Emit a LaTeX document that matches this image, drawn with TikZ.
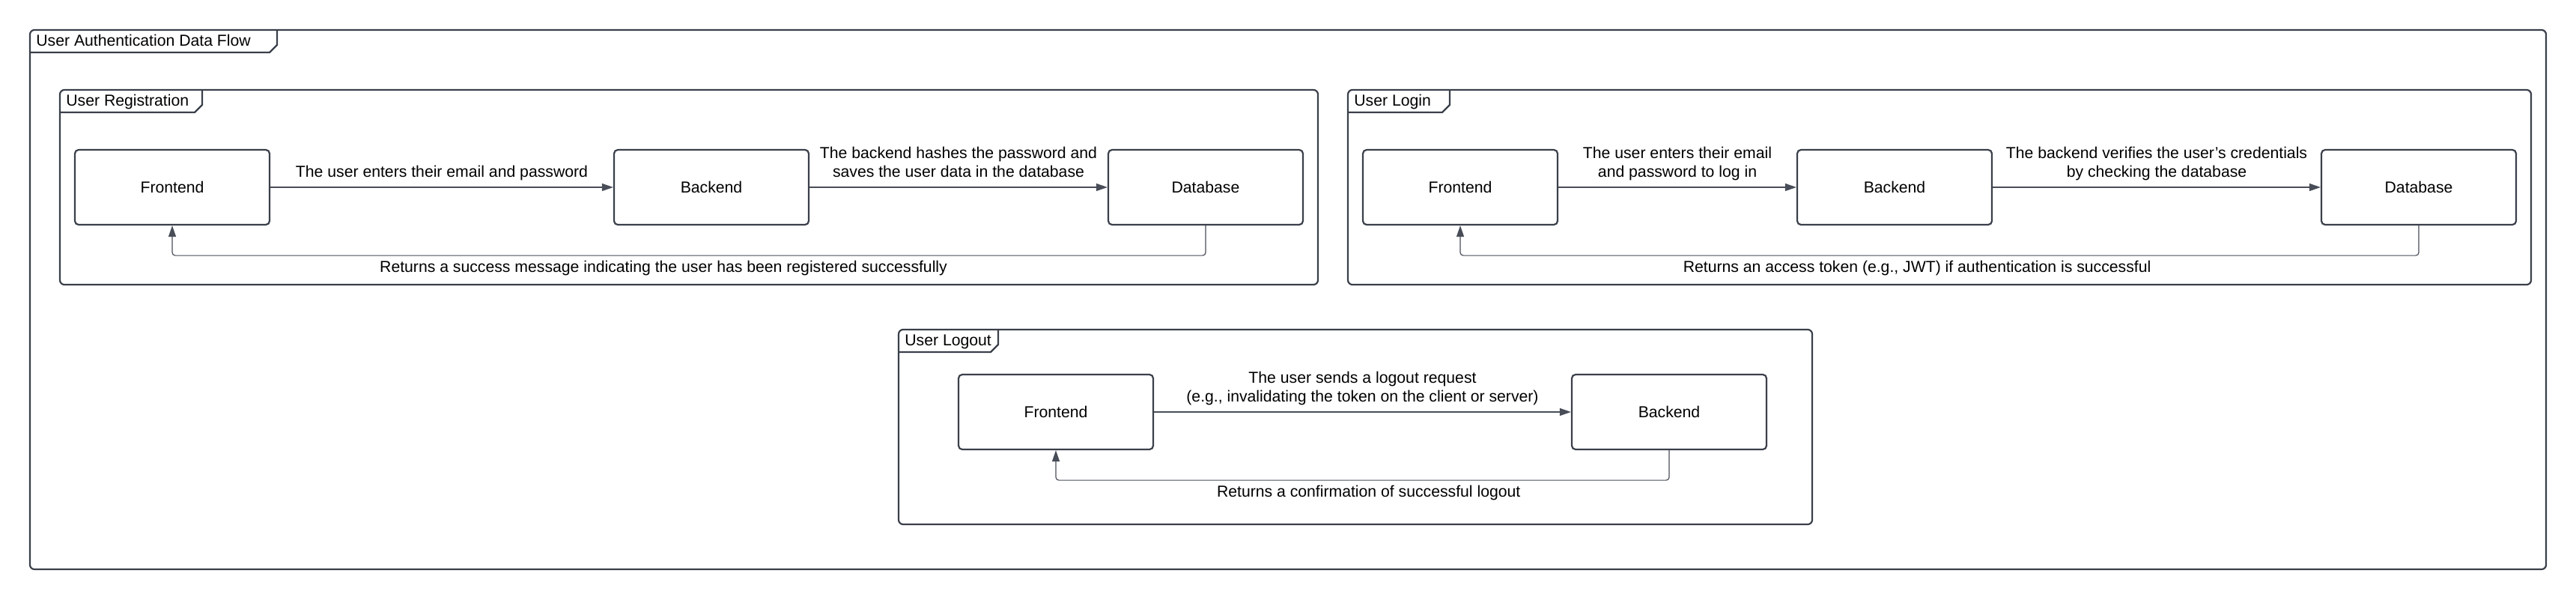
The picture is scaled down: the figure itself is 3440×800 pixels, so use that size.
\documentclass[tikz,border=0pt]{standalone}
\usepackage{fontspec}
\setmainfont{Liberation Sans}
\usetikzlibrary{arrows.meta}
\definecolor{edgec}{RGB}{58,63,74}
\definecolor{linkc}{RGB}{72,77,88}
\begin{document}
\begin{tikzpicture}[x=0.5pt,y=-0.5pt,
  font=\fontsize{10.6}{12.5}\selectfont,
  frame/.style={draw=edgec,line width=1.1pt,rounded corners=3pt},
  tabline/.style={draw=edgec,line width=1.1pt},
  tabtext/.style={anchor=base west,inner sep=0pt},
  box/.style={draw=edgec,line width=1.1pt,rounded corners=2.5pt,minimum width=130pt,minimum height=50pt,inner sep=0pt,fill=white},
  flow/.style={draw=linkc,line width=0.6pt,-{Triangle[length=7.5pt,width=5pt]}},
  ret/.style={flow,rounded corners=2pt},
  lblup/.style={anchor=south,inner sep=0pt,yshift=2.75pt,align=center},
  lbldown/.style={anchor=base,inner sep=0pt,yshift=-11pt}
]
\useasboundingbox (0,0) rectangle (3440,800);
% outer frame
\draw[frame] (40,40) rectangle (3400,760);
\draw[tabline] (40,70) -- (360,70) -- (370,60) -- (370,40);
\node[tabtext] (tout) at (48,61) {User Authentication Data Flow};
% registration frame
\draw[frame] (80,120) rectangle (1760,380);
\draw[tabline] (80,150) -- (260,150) -- (270,140) -- (270,120);
\node[tabtext] (treg) at (88,141) {User Registration};
% login frame
\draw[frame] (1800,120) rectangle (3380,380);
\draw[tabline] (1800,150) -- (1926,150) -- (1936,140) -- (1936,120);
\node[tabtext] (tlog) at (1808,141) {User Login};
% logout frame
\draw[frame] (1200,440) rectangle (2420,700);
\draw[tabline] (1200,470) -- (1323,470) -- (1333,460) -- (1333,440);
\node[tabtext] (tout2) at (1208,461) {User Logout};
% registration boxes
\node[box] (rfe) at (230,250) {Frontend};
\node[box] (rbe) at (950,250) {Backend};
\node[box] (rdb) at (1610,250) {Database};
% login boxes
\node[box] (lfe) at (1950,250) {Frontend};
\node[box] (lbe) at (2530,250) {Backend};
\node[box] (ldb) at (3230,250) {Database};
% logout boxes
\node[box] (ofe) at (1410,550) {Frontend};
\node[box] (obe) at (2229,550) {Backend};
% registration flows
\draw[flow] (rfe.east) -- node[lblup] {The user enters their email and password\strut} (rbe.west);
\draw[flow] (rbe.east) -- node[lblup] {The backend hashes the password and\\saves the user data in the database\strut} (rdb.west);
\draw[ret] (rdb.south) -- ++(0,40) -| node[lbldown,pos=0.2623] {Returns a success message indicating the user has been registered successfully} (rfe.south);
% login flows
\draw[flow] (lfe.east) -- node[lblup] {The user enters their email\\and password to log in\strut} (lbe.west);
\draw[flow] (lbe.east) -- node[lblup] {The backend verifies the user’s credentials\\by checking the database\strut} (ldb.west);
\draw[ret] (ldb.south) -- ++(0,40) -| node[lbldown,pos=0.2617] {Returns an access token (e.g., JWT) if authentication is successful} (lfe.south);
% logout flows
\draw[flow] (ofe.east) -- node[lblup] {The user sends a logout request\\(e.g., invalidating the token on the client or server)\strut} (obe.west);
\draw[ret] (obe.south) -- ++(0,40) -| node[lbldown,pos=0.245] {Returns a confirmation of successful logout} (ofe.south);
\end{tikzpicture}
\end{document}
